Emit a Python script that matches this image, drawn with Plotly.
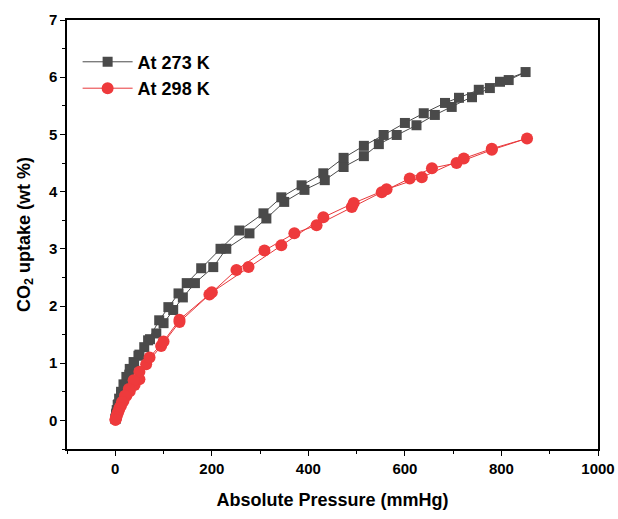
import plotly.graph_objects as go

# 273 K: adsorption (increasing P) and desorption (decreasing P)
p273_ads = [0.5, 1.5, 3, 5, 8, 12, 17, 23, 30, 38, 48, 60, 72, 85, 100, 120, 140, 165, 203, 230,
            278, 313, 350, 392, 434, 473, 515, 546, 583, 624, 662, 697, 739, 776, 815, 850]
u273_ads = [0.03, 0.1, 0.18, 0.27, 0.38, 0.5, 0.63, 0.76, 0.9, 1.02, 1.13, 1.28, 1.42, 1.52, 1.7, 1.93, 2.15, 2.4, 2.68, 3.0,
            3.27, 3.53, 3.82, 4.03, 4.2, 4.43, 4.62, 4.83, 4.99, 5.16, 5.34, 5.48, 5.65, 5.81, 5.95, 6.09]
p273_des = [797, 753, 712, 683, 639, 600, 556, 515, 473, 431, 386, 344, 307, 257, 218, 178, 148, 131, 110, 91,
            68, 50, 39, 29, 20, 12, 6, 2, 0.5]
u273_des = [5.92, 5.78, 5.64, 5.55, 5.37, 5.20, 4.99, 4.80, 4.59, 4.32, 4.11, 3.90, 3.62, 3.32, 3.0, 2.66, 2.4, 2.22, 1.98, 1.75,
            1.4, 1.15, 1.0, 0.8, 0.62, 0.45, 0.28, 0.12, 0.03]

# 298 K
p298_ads = [0.5, 1.5, 3, 5, 8, 12, 17, 23, 30, 40, 50, 64, 95, 133, 195, 251, 309, 371, 417, 490,
            552, 610, 656, 707, 780, 853]
u298_ads = [0.01, 0.04, 0.08, 0.13, 0.19, 0.26, 0.34, 0.43, 0.51, 0.62, 0.72, 0.98, 1.3, 1.72, 2.2, 2.63, 2.97, 3.27, 3.41, 3.73,
            3.99, 4.23, 4.41, 4.50, 4.73, 4.93]
p298_des = [780, 722, 635, 562, 494, 431, 344, 276, 200, 133, 100, 71, 50, 38, 28, 20, 14, 9, 5, 2, 0.5]
u298_des = [4.75, 4.58, 4.25, 4.04, 3.80, 3.55, 3.06, 2.68, 2.24, 1.76, 1.38, 1.10, 0.85, 0.7, 0.55, 0.43, 0.32, 0.22, 0.13, 0.05, 0.01]

series_names = ["At 273 K", "At 298 K"]

FONT = "Arial, 'Liberation Sans', sans-serif"

fig = go.Figure()
fig.add_trace(go.Scatter(
    x=p273_ads + p273_des, y=u273_ads + u273_des, name=series_names[0],
    mode="lines+markers",
    line=dict(color="#4a4a4a", width=1),
    marker=dict(symbol="square", size=10, color="#4a4a4a"),
))
fig.add_trace(go.Scatter(
    x=p298_ads + p298_des, y=u298_ads + u298_des, name=series_names[1],
    mode="lines+markers",
    line=dict(color="#e8383b", width=1),
    marker=dict(symbol="circle", size=12, color="#ee3a3c"),
))

axis_common = dict(
    showline=True, linecolor="black", linewidth=1.5, mirror=True,
    ticks="outside", ticklen=5, tickwidth=1.2, tickcolor="black",
    showgrid=False, zeroline=False, automargin=False,
    tickfont=dict(family=FONT, size=15, color="black", weight="bold"),
)

fig.update_layout(
    width=618, height=519,
    margin=dict(l=67, r=20, t=20, b=70, autoexpand=False),
    paper_bgcolor="white", plot_bgcolor="white",
    font=dict(family=FONT, color="black"),
    showlegend=True,
    legend=dict(
        x=0.02, y=0.945, xanchor="left", yanchor="top",
        bgcolor="rgba(0,0,0,0)",
        font=dict(family=FONT, size=18, color="black", weight="bold"),
        itemwidth=50, tracegroupgap=2,
    ),
    xaxis=dict(
        range=[-100, 1000], tickvals=[0, 200, 400, 600, 800, 1000],
        minor=dict(ticks="outside", ticklen=3, dtick=100, tick0=0, tickcolor="black"),
        title=dict(text="Absolute Pressure (mmHg)", standoff=18,
                   font=dict(family=FONT, size=18, color="black", weight="bold")),
        **axis_common,
    ),
    yaxis=dict(
        range=[-0.5, 7], tickvals=[0, 1, 2, 3, 4, 5, 6, 7],
        minor=dict(ticks="outside", ticklen=3, dtick=0.5, tick0=0, tickcolor="black"),
        title=dict(text="CO<sub>2</sub> uptake (wt %)", standoff=14,
                   font=dict(family=FONT, size=18, color="black", weight="bold")),
        **axis_common,
    ),
)

fig.write_html("out.html")
